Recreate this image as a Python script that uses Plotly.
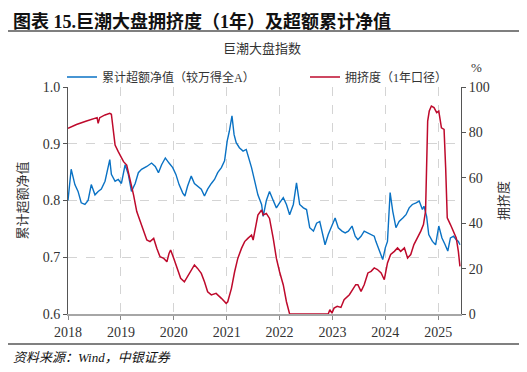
import plotly.graph_objects as go

# ---- data (x in fractional years) ----
blue_x = [2018.00, 2018.06, 2018.10, 2018.13, 2018.19, 2018.25, 2018.32, 2018.38, 2018.44, 2018.51,
          2018.57, 2018.63, 2018.70, 2018.76, 2018.79, 2018.82, 2018.89, 2018.95, 2019.01, 2019.08,
          2019.14, 2019.20, 2019.27, 2019.33, 2019.39, 2019.49, 2019.58, 2019.65, 2019.71, 2019.77,
          2019.84, 2019.91, 2019.98, 2020.04, 2020.10, 2020.17, 2020.21, 2020.26, 2020.33, 2020.39,
          2020.45, 2020.52, 2020.58, 2020.64, 2020.71, 2020.77, 2020.83, 2020.90, 2020.96, 2021.01,
          2021.05, 2021.10, 2021.14, 2021.18, 2021.24, 2021.31, 2021.37, 2021.41, 2021.47, 2021.53,
          2021.59, 2021.66, 2021.69, 2021.75, 2021.81, 2021.88, 2021.94, 2022.00, 2022.07, 2022.13,
          2022.19, 2022.26, 2022.32, 2022.38, 2022.45, 2022.51, 2022.57, 2022.64, 2022.70, 2022.76,
          2022.83, 2022.86, 2022.92, 2022.99, 2023.05, 2023.11, 2023.18, 2023.24, 2023.30, 2023.37,
          2023.43, 2023.48, 2023.54, 2023.60, 2023.67, 2023.73, 2023.79, 2023.82, 2023.89, 2023.95,
          2024.00, 2024.04, 2024.09, 2024.14, 2024.20, 2024.26, 2024.33, 2024.39, 2024.45, 2024.51,
          2024.58, 2024.64, 2024.70, 2024.73, 2024.78, 2024.82, 2024.89, 2024.95, 2025.01, 2025.07,
          2025.13, 2025.18, 2025.23, 2025.29, 2025.34, 2025.38, 2025.41]
blue_y = [0.800, 0.855, 0.840, 0.828, 0.816, 0.796, 0.793, 0.800, 0.828, 0.810,
          0.816, 0.820, 0.834, 0.863, 0.872, 0.846, 0.834, 0.837, 0.830, 0.863,
          0.846, 0.816, 0.830, 0.849, 0.855, 0.860, 0.866, 0.860, 0.849, 0.863,
          0.875, 0.866, 0.858, 0.846, 0.828, 0.813, 0.808, 0.825, 0.843, 0.830,
          0.825, 0.820, 0.808, 0.820, 0.830, 0.837, 0.849, 0.858, 0.870, 0.905,
          0.922, 0.949, 0.916, 0.902, 0.893, 0.887, 0.890, 0.878, 0.858, 0.834,
          0.810, 0.793, 0.772, 0.800, 0.816, 0.800, 0.787, 0.796, 0.805, 0.793,
          0.775, 0.793, 0.831, 0.793, 0.787, 0.784, 0.752, 0.746, 0.760, 0.763,
          0.731, 0.722, 0.740, 0.755, 0.769, 0.752, 0.746, 0.743, 0.746, 0.755,
          0.737, 0.731, 0.737, 0.746, 0.743, 0.740, 0.737, 0.728, 0.711, 0.696,
          0.717, 0.728, 0.814, 0.781, 0.752, 0.763, 0.769, 0.775, 0.787, 0.793,
          0.796, 0.799, 0.784, 0.790, 0.772, 0.740, 0.728, 0.722, 0.755, 0.734,
          0.722, 0.711, 0.734, 0.737, 0.731, 0.728, 0.722]

red_x = [2018.00, 2018.16, 2018.35, 2018.51, 2018.55, 2018.57, 2018.60, 2018.70, 2018.79, 2018.82,
         2018.89, 2018.95, 2019.05, 2019.11, 2019.17, 2019.24, 2019.30, 2019.39, 2019.49, 2019.55,
         2019.62, 2019.68, 2019.74, 2019.81, 2019.87, 2019.91, 2019.94, 2020.00, 2020.07, 2020.13,
         2020.20, 2020.26, 2020.33, 2020.39, 2020.45, 2020.52, 2020.58, 2020.64, 2020.71, 2020.80,
         2020.90, 2020.99, 2021.02, 2021.09, 2021.15, 2021.21, 2021.28, 2021.34, 2021.40, 2021.47,
         2021.50, 2021.53, 2021.59, 2021.66, 2021.69, 2021.75, 2021.81, 2021.88, 2021.94, 2022.00,
         2022.07, 2022.13, 2022.19, 2022.92, 2022.95, 2022.99, 2023.03, 2023.09, 2023.16, 2023.22,
         2023.32, 2023.44, 2023.48, 2023.54, 2023.60, 2023.67, 2023.73, 2023.79, 2023.85, 2023.92,
         2023.98, 2024.04, 2024.10, 2024.17, 2024.23, 2024.29, 2024.36, 2024.42, 2024.48, 2024.54,
         2024.61, 2024.67, 2024.72, 2024.76, 2024.80, 2024.83, 2024.87, 2024.92, 2024.97, 2025.01,
         2025.06, 2025.11, 2025.14, 2025.17, 2025.23, 2025.29, 2025.34, 2025.38, 2025.41]
red_y = [81.8, 83.5, 85.0, 86.2, 86.5, 84.0, 86.5, 87.7, 88.4, 88.0,
         74.4, 71.5, 67.1, 65.6, 59.8, 52.4, 45.1, 39.2, 32.6, 31.9,
         33.3, 28.9, 25.2, 24.5, 23.0, 26.7, 28.2, 24.5, 20.1, 15.7,
         14.2, 16.4, 19.4, 21.6, 20.1, 17.9, 14.2, 9.8, 8.4, 9.1,
         6.9, 4.7, 5.4, 11.3, 18.6, 24.5, 28.9, 31.9, 33.3, 34.8,
         32.6, 36.3, 43.6, 45.8, 43.6, 44.3, 42.1, 33.3, 24.5, 18.6,
         12.8, 5.4, 0.0, 0.0, 1.9, 0.4, 2.6, 3.4, 2.9, 6.3,
         8.5, 12.9, 12.9, 10.0, 12.9, 18.1, 18.8, 20.3, 19.6, 18.1,
         15.1, 22.5, 26.2, 27.6, 29.1, 27.6, 29.1, 24.7, 26.2, 30.6,
         33.5, 36.5, 39.4, 45.3, 85.0, 89.4, 91.6, 90.9, 88.7, 89.4,
         82.0, 81.3, 64.4, 42.4, 39.4, 36.5, 33.5, 27.6, 21.0]

year_ticks = [2018, 2019, 2020, 2021, 2022, 2023, 2024, 2025]
year_labels = [str(y) for y in year_ticks]
left_ticks = [0.6, 0.7, 0.8, 0.9, 1.0]
left_labels = ["0.6", "0.7", "0.8", "0.9", "1.0"]
right_ticks = [0, 20, 40, 60, 80, 100]

BLUE = "#0A72C4"
RED = "#BE0A2C"
FONT = "Liberation Serif, Times New Roman, Noto Sans CJK SC, serif"
TXT = "#333333"

# screen layout (page body adds an 8px offset)
OFF = 8
SW, SH = 527, 372
L, R, T, B = 68, 461, 87, 314          # plot area on screen
W, H = SW - OFF, SH - OFF
pw, ph = R - L, B - T

def px(x):
    return (x - L) / pw

def py(y):
    return (B - y) / ph

fig = go.Figure()
fig.add_trace(go.Scatter(x=blue_x, y=blue_y, mode="lines", name="累计超额净值（较万得全A）",
                         line=dict(color=BLUE, width=1.4), yaxis="y", legend="legend"))
fig.add_trace(go.Scatter(x=red_x, y=red_y, mode="lines", name="拥挤度（1年口径）",
                         line=dict(color=RED, width=1.5), yaxis="y2", legend="legend2"))

leg_common = dict(orientation="h", yanchor="middle", xanchor="left",
                  font=dict(size=12, color=TXT), bgcolor="rgba(0,0,0,0)",
                  itemwidth=30, borderwidth=0)

fig.update_layout(
    width=W, height=H,
    margin=dict(l=L - OFF, r=SW - R, t=T - OFF, b=SH - B, autoexpand=False),
    paper_bgcolor="white", plot_bgcolor="white",
    font=dict(family=FONT, size=13, color=TXT),
    showlegend=True,
    legend=dict(x=px(62), y=py(77), **leg_common),
    legend2=dict(x=px(305), y=py(77), **leg_common),
    xaxis=dict(range=[2018, 2025.43], tickvals=year_ticks, ticktext=year_labels,
               showgrid=True, gridcolor="#d4d4d4", griddash="dash", gridwidth=1,
               showline=True, linecolor="#a6a6a6", linewidth=2,
               ticks="outside", ticklen=4, tickcolor="#888888",
               tickfont=dict(size=14, color=TXT), zeroline=False, automargin=False),
    yaxis=dict(range=[0.6, 1.0], tickvals=left_ticks, ticktext=left_labels,
               showgrid=True, gridcolor="#d4d4d4", griddash="dash", gridwidth=1,
               showline=True, linecolor="#555555", linewidth=1,
               ticks="outside", ticklen=4, tickcolor="#555555",
               tickfont=dict(size=14, color=TXT), zeroline=False, automargin=False,
               title=dict(text="累计超额净值", font=dict(size=13, color=TXT), standoff=12)),
    yaxis2=dict(range=[0, 100], tickvals=right_ticks, overlaying="y", side="right",
                showgrid=False, showline=True, linecolor="#555555", linewidth=1,
                ticks="outside", ticklen=4, tickcolor="#555555",
                tickfont=dict(size=14, color=TXT), zeroline=False, automargin=False,
                title=dict(text="拥挤度", font=dict(size=13, color=TXT), standoff=10)),
    shapes=[
        dict(type="line", xref="paper", yref="paper", x0=px(OFF), x1=px(519), y0=py(31), y1=py(31),
             line=dict(color="#555555", width=1.5)),
        dict(type="line", xref="paper", yref="paper", x0=px(OFF), x1=px(519), y0=py(344), y1=py(344),
             line=dict(color="#808080", width=2)),
    ],
    annotations=[
        dict(text="<b>图表 15.巨潮大盘拥挤度（1年）及超额累计净值</b>", xref="paper", yref="paper",
             x=px(11), y=py(9), xanchor="left", yanchor="top", showarrow=False,
             font=dict(size=18, color="#111111", family="Liberation Serif, Noto Sans CJK SC")),
        dict(text="巨潮大盘指数", xref="paper", yref="paper", x=px(262), y=py(48),
             xanchor="center", yanchor="middle", showarrow=False,
             font=dict(size=13, color=TXT)),
        dict(text="%", xref="paper", yref="paper", x=px(476), y=py(67),
             xanchor="center", yanchor="middle", showarrow=False,
             font=dict(size=13, color=TXT)),
        dict(text="<i>资料来源：Wind，中银证券</i>", xref="paper", yref="paper", x=px(11), y=py(357),
             xanchor="left", yanchor="middle", showarrow=False,
             font=dict(size=13, color="#111111")),
    ],
)

fig.write_html("out.html")
